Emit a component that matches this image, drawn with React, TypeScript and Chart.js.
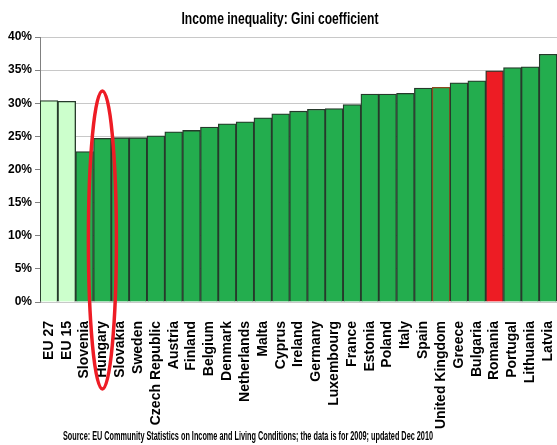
import React, { useEffect, useRef } from "react";
import { Chart, registerables } from "chart.js";

Chart.register(...registerables);

// Gini coefficient (%) by country, 2009
const countries = [
  "EU 27", "EU 15", "Slovenia", "Hungary", "Slovakia", "Sweden", "Czech Republic",
  "Austria", "Finland", "Belgium", "Denmark", "Netherlands", "Malta", "Cyprus",
  "Ireland", "Germany", "Luxembourg", "France", "Estonia", "Poland", "Italy",
  "Spain", "United Kingdom", "Greece", "Bulgaria", "Romania", "Portugal",
  "Lithuania", "Latvia",
];
const gini = [
  30.4, 30.3, 22.7, 24.7, 24.8, 24.8, 25.1,
  25.7, 25.9, 26.4, 26.9, 27.2, 27.8, 28.4,
  28.8, 29.1, 29.2, 29.8, 31.4, 31.4, 31.5,
  32.3, 32.4, 33.1, 33.4, 34.9, 35.4,
  35.5, 37.4,
];
const yTicks = [0, 5, 10, 15, 20, 25, 30, 35, 40];

const titleText = "Income inequality: Gini coefficient";
const sourceText =
  "Source: EU Community Statistics on Income and Living Conditions; the data is for 2009; updated Dec 2010";
const highlighted = "Hungary";

const GREEN = "#23AD4E";
const LIGHT_GREEN = "#CCFFCC";
const RED = "#ED1C24";

const fillColors = countries.map((c) =>
  c.startsWith("EU") ? LIGHT_GREEN : c === "Romania" ? RED : GREEN
);
const edgeColors = countries.map((c) =>
  c === "United Kingdom" ? "#8B4A1E" : "#263A2B"
);

// condensed bold text fitted into a given width
function drawFitted(
  ctx: CanvasRenderingContext2D,
  text: string,
  cx: number,
  cy: number,
  size: number,
  width: number
) {
  ctx.save();
  ctx.font = `bold ${size}px "Liberation Sans Narrow", "Liberation Sans", Arial, sans-serif`;
  ctx.fillStyle = "#000";
  ctx.textAlign = "center";
  ctx.textBaseline = "middle";
  const w = ctx.measureText(text).width;
  ctx.translate(cx, cy);
  ctx.scale(width / w, 1);
  ctx.fillText(text, 0, 0);
  ctx.restore();
}

const textPlugin = {
  id: "captions",
  afterDraw(chart: Chart) {
    const ctx = chart.ctx;
    drawFitted(ctx, titleText, 280, 19.5, 17, 197);
    drawFitted(ctx, sourceText, 248, 437, 12, 370);
  },
};

// red ring around the highlighted country's bar and label
const ringPlugin = {
  id: "ring",
  afterDraw(chart: Chart) {
    const xs = chart.scales.x;
    const ys = chart.scales.y;
    const idx = countries.indexOf(highlighted);
    const cx = xs.getPixelForValue(idx);
    const base = ys.getPixelForValue(0);
    const ctx = chart.ctx;
    ctx.save();
    ctx.strokeStyle = "#EE1C25";
    ctx.lineWidth = 3.5;
    ctx.beginPath();
    ctx.ellipse(cx, base - 62, 14, 149, 0, 0, Math.PI * 2);
    ctx.stroke();
    ctx.restore();
  },
};

export default function App() {
  const ref = useRef<HTMLCanvasElement>(null);

  useEffect(() => {
    if (!ref.current) return;
    const chart = new Chart(ref.current, {
      type: "bar",
      data: {
        labels: countries,
        datasets: [
          {
            data: gini,
            backgroundColor: fillColors,
            borderColor: edgeColors,
            borderWidth: 1.3,
            barPercentage: 1,
            categoryPercentage: 1,
          },
        ],
      },
      options: {
        animation: false,
        responsive: false,
        devicePixelRatio: 1,
        layout: { padding: { top: 37, left: 0, right: 0, bottom: 0 } },
        plugins: {
          legend: { display: false },
          title: { display: false },
          tooltip: { enabled: false },
        },
        scales: {
          x: {
            offset: true,
            grid: { display: false },
            border: { display: false },
            ticks: {
              autoSkip: false,
              minRotation: 90,
              maxRotation: 90,
              padding: 11,
              color: "#000",
              font: { family: '"Liberation Sans", Arial, sans-serif', size: 14, weight: "bold" },
            },
            afterFit(scale: any) {
              scale.height = 143;
              scale.paddingRight = 0;
              scale.paddingLeft = 0;
            },
          },
          y: {
            min: 0,
            max: 40,
            afterBuildTicks(scale: any) {
              scale.ticks = yTicks.map((v) => ({ value: v }));
            },
            grid: {
              color: "#C8C8C8",
              tickColor: "#808080",
              tickLength: 5,
              lineWidth: 1,
            },
            border: { display: true, color: "#808080" },
            ticks: {
              padding: 3,
              color: "#000",
              font: { family: '"Liberation Sans", Arial, sans-serif', size: 12, weight: "bold" },
              callback: (v: any) => `${v}%`,
            },
            afterFit(scale: any) {
              scale.width = 40;
            },
          },
        },
      },
      plugins: [ringPlugin, textPlugin],
    });
    return () => chart.destroy();
  }, []);

  return (
    <div style={{ position: "fixed", left: 0, top: 0, width: 557, height: 445, overflow: "hidden", background: "#fff" }}>
      <canvas ref={ref} width={557} height={445} style={{ display: "block" }} />
    </div>
  );
}
